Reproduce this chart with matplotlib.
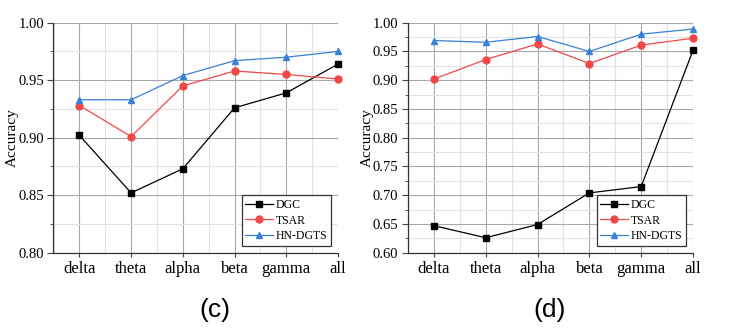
import matplotlib
matplotlib.use("Agg")
import matplotlib.pyplot as plt
from matplotlib.ticker import MultipleLocator

categories = ["delta", "theta", "alpha", "beta", "gamma", "all"]

c_dgc = [0.902, 0.852, 0.873, 0.926, 0.939, 0.964]
c_tsar = [0.928, 0.901, 0.945, 0.958, 0.955, 0.951]
c_hn = [0.933, 0.933, 0.954, 0.967, 0.970, 0.975]

d_dgc = [0.647, 0.626, 0.649, 0.704, 0.715, 0.952]
d_tsar = [0.902, 0.936, 0.963, 0.929, 0.961, 0.973]
d_hn = [0.969, 0.966, 0.976, 0.950, 0.980, 0.989]

series_names = ["DGC", "TSAR", "HN-DGTS"]
colors = ["#000000", "#f04848", "#3a80d8"]
markers = ["s", "o", "^"]

plt.rcParams['font.family'] = ['Liberation Serif', 'DejaVu Serif']

fig = plt.figure(figsize=(7.39, 3.30), dpi=100)
W, H = 739, 330

def make_ax(x0, x1, y0, y1):
    return fig.add_axes([x0 / W, 1 - y1 / H, (x1 - x0) / W, (y1 - y0) / H])

ax1 = make_ax(53, 338, 22.7, 252.7)
ax2 = make_ax(407.5, 693, 22.7, 252.7)

panels = [
    (ax1, [c_dgc, c_tsar, c_hn], (0.80, 1.00), "(c)"),
    (ax2, [d_dgc, d_tsar, d_hn], (0.60, 1.00), "(d)"),
]

x = list(range(len(categories)))
for ax, data, ylim, label in panels:
    for vals, name, col, mk in zip(data, series_names, colors, markers):
        ax.plot(x, vals, color=col, marker=mk, markersize=5, linewidth=0.9,
                label=name, clip_on=False, zorder=3)
    ax.set_xlim(-0.51, 5)
    ax.set_ylim(*ylim)
    ax.set_xticks(x)
    ax.set_xticklabels(categories, fontsize=12)
    ax.xaxis.set_minor_locator(MultipleLocator(0.5))
    ax.yaxis.set_major_locator(MultipleLocator(0.05))
    ax.yaxis.set_minor_locator(MultipleLocator(0.025))
    ax.yaxis.set_major_formatter(matplotlib.ticker.FormatStrFormatter('%.2f'))
    ax.tick_params(axis='y', labelsize=10.5, direction='out', length=4, width=0.8,
                   pad=2.5, color='#444444')
    ax.tick_params(axis='y', which='minor', direction='out', length=2.5, width=0.6,
                   color='#444444')
    ax.tick_params(axis='x', which='major', direction='out', length=3, width=0.8,
                   pad=3, color='#444444')
    ax.tick_params(axis='x', which='minor', length=0)
    ax.grid(True, which='major', color='#a8a8a8', linewidth=0.8)
    ax.grid(True, which='minor', color='#e2e2e2', linewidth=0.8)
    ax.set_axisbelow(True)
    for s in ['top', 'right']:
        ax.spines[s].set_visible(False)
    for s in ['left', 'bottom']:
        ax.spines[s].set_color('#333333')
        ax.spines[s].set_linewidth(0.9)
    ax.set_ylabel("Accuracy", fontsize=11)
    ax.yaxis.set_label_coords(-0.119, 0.5)
    leg = ax.legend(loc='lower right', fontsize=8.5, frameon=True, fancybox=False,
                    edgecolor='#333333', framealpha=1, borderpad=0.3,
                    handlelength=2.4, handletextpad=0.2, labelspacing=0.3,
                    borderaxespad=0.6)
    leg.get_frame().set_linewidth(0.9)

fig.text(215 / W, 1 - 310 / H, "(c)", fontsize=19, family='Liberation Sans',
         ha='center', va='center')
fig.text(550 / W, 1 - 310 / H, "(d)", fontsize=19, family='Liberation Sans',
         ha='center', va='center')

fig.savefig("out.png", dpi=100)
